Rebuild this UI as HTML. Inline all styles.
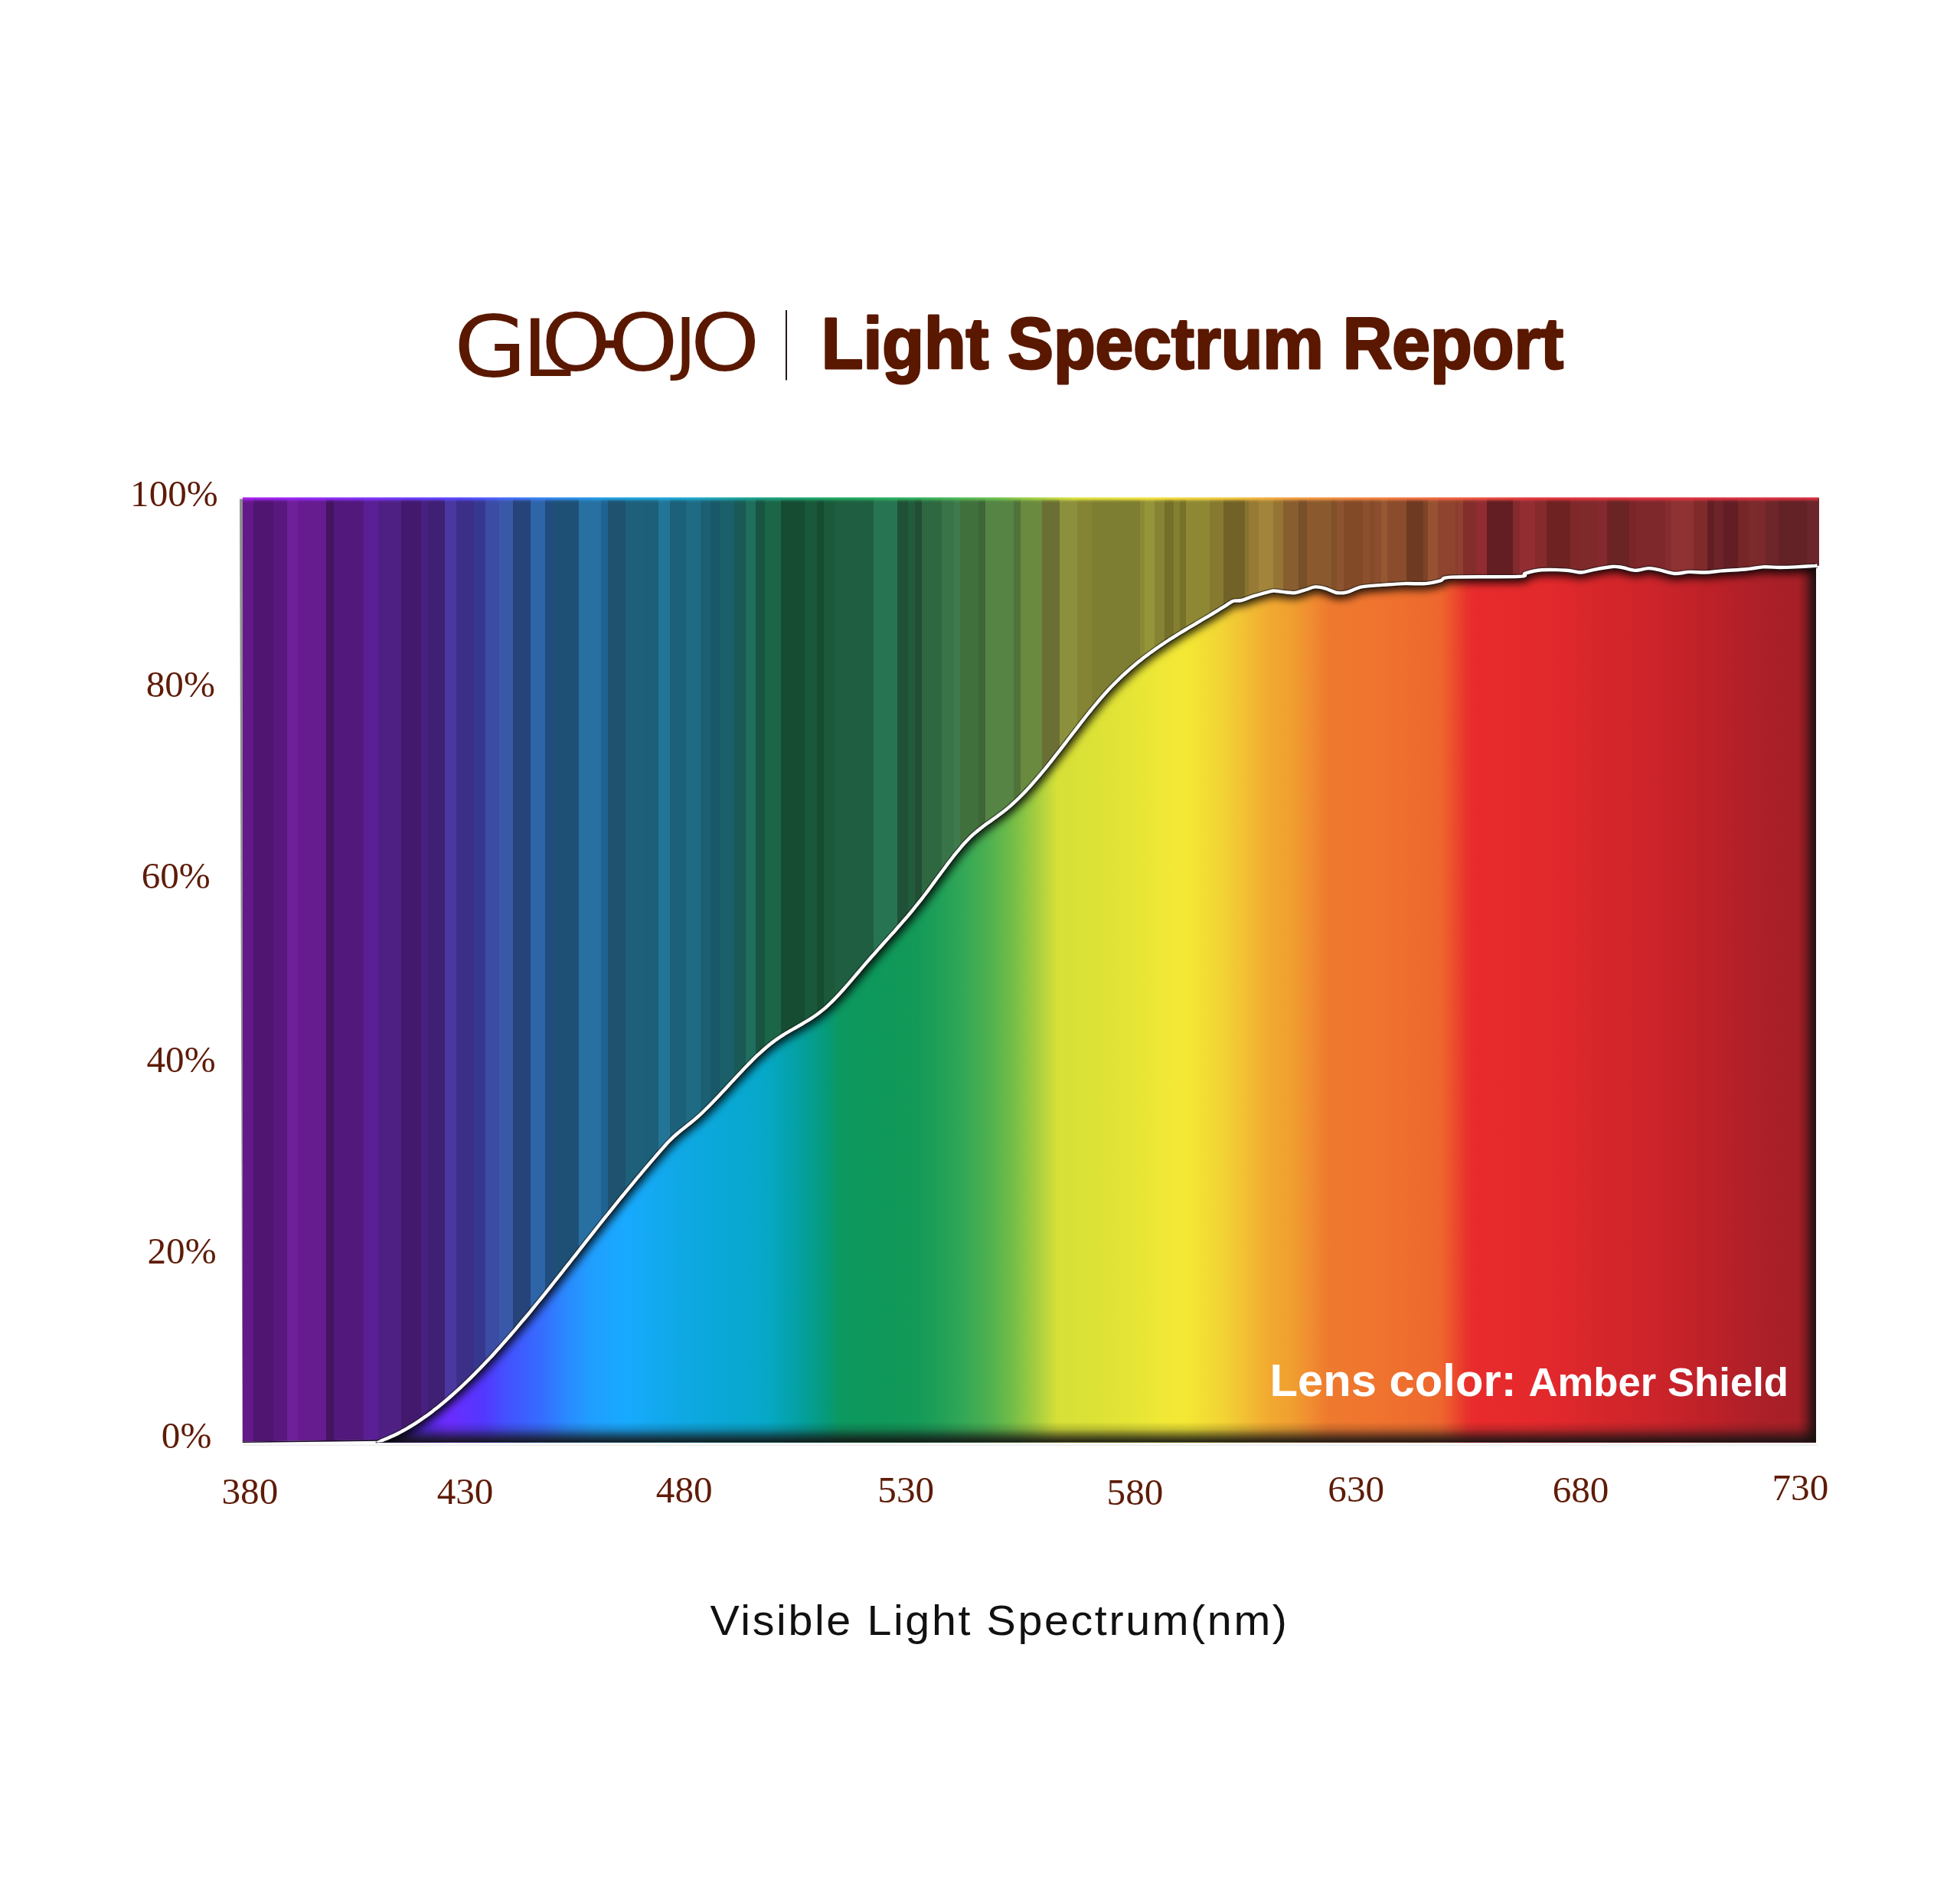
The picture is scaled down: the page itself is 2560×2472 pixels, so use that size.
<!DOCTYPE html>
<html><head><meta charset="utf-8"><title>GLOOJO Light Spectrum Report</title>
<style>
html,body{margin:0;padding:0;background:#fff;}
body{width:2560px;height:2472px;position:relative;overflow:hidden;}
.chart{position:absolute;left:0;top:0;}
.ax{font-family:"Liberation Serif",serif;font-size:49.2px;fill:#5e1c08;}
.title{font-family:"Liberation Sans",sans-serif;font-weight:bold;font-size:95px;fill:#5a1800;stroke:#5a1800;stroke-width:3px;stroke-linejoin:round;}
.lens{font-family:"Liberation Sans",sans-serif;font-weight:bold;fill:#fff;}
.xt{font-family:"Liberation Sans",sans-serif;fill:#111;}
.logo{font-family:"DejaVu Sans",sans-serif;fill:#5a1800;}
</style></head>
<body>
<svg class="chart" width="2560" height="2472" viewBox="0 0 2560 2472">
<defs>
<linearGradient id="fgg" gradientUnits="userSpaceOnUse" x1="496.0" y1="0" x2="2372.0" y2="0"><stop offset="0.0000" stop-color="#3a1c90"/><stop offset="0.0341" stop-color="#5a28e8"/><stop offset="0.0485" stop-color="#6a2cff"/><stop offset="0.0730" stop-color="#5238ff"/><stop offset="0.0874" stop-color="#4450ff"/><stop offset="0.1034" stop-color="#3a62ff"/><stop offset="0.1151" stop-color="#3470ff"/><stop offset="0.1301" stop-color="#2a8aff"/><stop offset="0.1466" stop-color="#209eff"/><stop offset="0.1711" stop-color="#18aaff"/><stop offset="0.2036" stop-color="#10a8e8"/><stop offset="0.2361" stop-color="#0aa8d8"/><stop offset="0.2687" stop-color="#06a8c8"/><stop offset="0.2932" stop-color="#04a0a0"/><stop offset="0.3113" stop-color="#069a78"/><stop offset="0.3204" stop-color="#0c9860"/><stop offset="0.3497" stop-color="#0e985a"/><stop offset="0.3742" stop-color="#149a58"/><stop offset="0.3902" stop-color="#20a058"/><stop offset="0.4067" stop-color="#34a856"/><stop offset="0.4232" stop-color="#4cb050"/><stop offset="0.4392" stop-color="#70bc48"/><stop offset="0.4558" stop-color="#a0cc40"/><stop offset="0.4717" stop-color="#d6e038"/><stop offset="0.4963" stop-color="#dce236"/><stop offset="0.5208" stop-color="#e4e436"/><stop offset="0.5453" stop-color="#f0e836"/><stop offset="0.5618" stop-color="#f4e834"/><stop offset="0.5864" stop-color="#f2d434"/><stop offset="0.6023" stop-color="#f2c034"/><stop offset="0.6205" stop-color="#f2a830"/><stop offset="0.6343" stop-color="#f0a030"/><stop offset="0.6471" stop-color="#f08e30"/><stop offset="0.6604" stop-color="#ee7a2e"/><stop offset="0.6914" stop-color="#f0742e"/><stop offset="0.7239" stop-color="#ee6c2e"/><stop offset="0.7388" stop-color="#ee662e"/><stop offset="0.7484" stop-color="#ec4c2c"/><stop offset="0.7569" stop-color="#e8322c"/><stop offset="0.7633" stop-color="#e82a2c"/><stop offset="0.7894" stop-color="#e62a2c"/><stop offset="0.8220" stop-color="#e0282c"/><stop offset="0.8545" stop-color="#d4262a"/><stop offset="0.8870" stop-color="#cc242a"/><stop offset="0.9296" stop-color="#bc2028"/><stop offset="0.9616" stop-color="#ac2028"/><stop offset="1.0000" stop-color="#a41e26"/></linearGradient>
<linearGradient id="topg" gradientUnits="userSpaceOnUse" x1="317.0" y1="0" x2="2375.0" y2="0"><stop offset="0.0000" stop-color="#a820f0"/><stop offset="0.0646" stop-color="#8a30f8"/><stop offset="0.1375" stop-color="#5a48ff"/><stop offset="0.1861" stop-color="#3a80f0"/><stop offset="0.2347" stop-color="#20a0e0"/><stop offset="0.2833" stop-color="#20a8d0"/><stop offset="0.3319" stop-color="#1ea080"/><stop offset="0.3805" stop-color="#20a860"/><stop offset="0.4291" stop-color="#34b060"/><stop offset="0.4776" stop-color="#6cc050"/><stop offset="0.5262" stop-color="#d8e040"/><stop offset="0.5748" stop-color="#f0e040"/><stop offset="0.6234" stop-color="#f0c840"/><stop offset="0.6720" stop-color="#f09840"/><stop offset="0.7206" stop-color="#f08040"/><stop offset="0.7692" stop-color="#f06040"/><stop offset="0.8178" stop-color="#e43840"/><stop offset="1.0000" stop-color="#d83040"/></linearGradient>
<linearGradient id="botsh" x1="0" y1="0" x2="0" y2="1">
<stop offset="0" stop-color="#141414" stop-opacity="0"/>
<stop offset="0.35" stop-color="#141414" stop-opacity="0.2"/>
<stop offset="0.7" stop-color="#141414" stop-opacity="0.65"/>
<stop offset="1" stop-color="#141414" stop-opacity="0.97"/>
</linearGradient>
<linearGradient id="rsh" x1="0" y1="0" x2="1" y2="0">
<stop offset="0" stop-color="#1a1010" stop-opacity="0"/>
<stop offset="0.4" stop-color="#1a1010" stop-opacity="0.3"/>
<stop offset="0.75" stop-color="#1a1010" stop-opacity="0.75"/>
<stop offset="1" stop-color="#1a1010" stop-opacity="0.97"/>
</linearGradient>
<clipPath id="fgclip"><path d="M492.0 1884.5 C493.2 1883.9 497.2 1881.9 499.4 1880.9 C501.6 1879.9 503.4 1879.3 505.4 1878.5 C507.4 1877.6 509.4 1876.8 511.5 1875.8 C513.5 1874.9 515.5 1874.0 517.5 1873.0 C519.5 1872.0 521.5 1870.9 523.5 1869.9 C525.5 1868.8 527.5 1867.7 529.5 1866.6 C531.5 1865.4 533.6 1864.2 535.6 1863.0 C537.6 1861.8 539.6 1860.6 541.6 1859.3 C543.6 1858.0 545.6 1856.7 547.6 1855.4 C549.6 1854.0 551.6 1852.6 553.6 1851.2 C555.7 1849.8 557.7 1848.4 559.7 1846.9 C561.7 1845.4 563.7 1843.9 565.7 1842.4 C567.7 1840.8 569.7 1839.3 571.7 1837.7 C573.7 1836.1 575.8 1834.4 577.8 1832.8 C579.8 1831.1 581.8 1829.4 583.8 1827.7 C585.8 1826.0 587.8 1824.3 589.8 1822.5 C591.8 1820.7 593.8 1818.9 595.8 1817.1 C597.9 1815.3 599.9 1813.5 601.9 1811.6 C603.9 1809.7 605.9 1807.8 607.9 1805.9 C609.9 1804.0 611.9 1802.0 613.9 1800.1 C615.9 1798.1 617.9 1796.1 620.0 1794.1 C622.0 1792.1 624.0 1790.0 626.0 1788.0 C628.0 1785.9 630.0 1783.8 632.0 1781.7 C634.0 1779.6 636.0 1777.5 638.0 1775.4 C640.0 1773.2 642.1 1771.1 644.1 1768.9 C646.1 1766.7 648.1 1764.5 650.1 1762.3 C652.1 1760.1 654.1 1757.8 656.1 1755.6 C658.1 1753.3 660.1 1751.0 662.1 1748.7 C664.2 1746.5 666.2 1744.1 668.2 1741.8 C670.2 1739.5 672.2 1737.2 674.2 1734.8 C676.2 1732.5 678.2 1730.1 680.2 1727.7 C682.2 1725.3 684.2 1722.9 686.3 1720.5 C688.3 1718.1 690.3 1715.7 692.3 1713.3 C694.3 1710.8 696.3 1708.4 698.3 1705.9 C700.3 1703.5 702.3 1701.0 704.3 1698.5 C706.4 1696.1 708.4 1693.6 710.4 1691.1 C712.4 1688.6 714.4 1686.1 716.4 1683.6 C718.4 1681.1 720.4 1678.5 722.4 1676.0 C724.4 1673.5 726.4 1671.0 728.5 1668.4 C730.5 1665.9 732.5 1663.3 734.5 1660.8 C736.5 1658.2 738.5 1655.7 740.5 1653.1 C742.5 1650.6 744.5 1648.0 746.5 1645.5 C748.5 1642.9 750.6 1640.4 752.6 1637.8 C754.6 1635.2 756.6 1632.7 758.6 1630.1 C760.6 1627.6 762.6 1625.0 764.6 1622.4 C766.6 1619.9 768.6 1617.3 770.6 1614.8 C772.7 1612.2 774.7 1609.7 776.7 1607.1 C778.7 1604.6 780.7 1602.1 782.7 1599.5 C784.7 1597.0 786.7 1594.5 788.7 1591.9 C790.7 1589.4 792.7 1586.9 794.8 1584.4 C796.8 1581.9 798.8 1579.4 800.8 1576.9 C802.8 1574.4 804.8 1571.9 806.8 1569.4 C808.8 1566.9 810.8 1564.5 812.8 1562.0 C814.9 1559.5 816.9 1557.1 818.9 1554.6 C820.9 1552.2 822.9 1549.8 824.9 1547.3 C826.9 1544.9 828.9 1542.5 830.9 1540.1 C832.9 1537.7 834.9 1535.3 837.0 1532.9 C839.0 1530.5 841.0 1528.1 843.0 1525.7 C845.0 1523.3 847.0 1521.0 849.0 1518.6 C851.0 1516.3 853.0 1513.9 855.0 1511.6 C857.0 1509.2 859.1 1506.9 861.1 1504.6 C863.1 1502.3 865.1 1499.9 867.1 1497.7 C869.1 1495.5 871.1 1493.2 873.1 1491.1 C875.1 1489.0 877.1 1487.0 879.1 1485.1 C881.2 1483.2 883.2 1481.5 885.2 1479.8 C887.2 1478.0 889.2 1476.5 891.2 1474.9 C893.2 1473.3 895.2 1471.7 897.2 1470.1 C899.2 1468.6 901.2 1467.0 903.3 1465.3 C905.3 1463.7 907.3 1462.0 909.3 1460.2 C911.3 1458.5 913.3 1456.6 915.3 1454.8 C917.3 1452.9 919.3 1451.0 921.3 1449.0 C923.3 1447.1 925.4 1445.1 927.4 1443.0 C929.4 1441.0 931.4 1438.9 933.4 1436.8 C935.4 1434.7 937.4 1432.6 939.4 1430.5 C941.4 1428.3 943.4 1426.2 945.5 1424.0 C947.5 1421.9 949.5 1419.7 951.5 1417.5 C953.5 1415.3 955.5 1413.1 957.5 1411.0 C959.5 1408.8 961.5 1406.6 963.5 1404.5 C965.5 1402.3 967.6 1400.2 969.6 1398.1 C971.6 1395.9 973.6 1393.8 975.6 1391.8 C977.6 1389.7 979.6 1387.6 981.6 1385.6 C983.6 1383.6 985.6 1381.6 987.6 1379.7 C989.7 1377.8 991.7 1375.9 993.7 1374.1 C995.7 1372.2 997.7 1370.4 999.7 1368.7 C1001.7 1367.0 1003.7 1365.3 1005.7 1363.7 C1007.7 1362.1 1009.7 1360.6 1011.8 1359.1 C1013.8 1357.6 1015.8 1356.2 1017.8 1354.9 C1019.8 1353.5 1021.8 1352.2 1023.8 1351.0 C1025.8 1349.7 1027.8 1348.5 1029.8 1347.4 C1031.8 1346.2 1033.9 1345.0 1035.9 1343.9 C1037.9 1342.7 1039.9 1341.6 1041.9 1340.5 C1043.9 1339.3 1045.9 1338.2 1047.9 1337.0 C1049.9 1335.8 1051.9 1334.6 1053.9 1333.4 C1056.0 1332.2 1058.0 1330.9 1060.0 1329.6 C1062.0 1328.3 1064.0 1327.0 1066.0 1325.5 C1068.0 1324.1 1070.0 1322.6 1072.0 1321.0 C1074.0 1319.5 1076.1 1317.8 1078.1 1316.1 C1080.1 1314.3 1082.1 1312.5 1084.1 1310.5 C1086.1 1308.6 1088.1 1306.6 1090.1 1304.6 C1092.1 1302.5 1094.1 1300.4 1096.1 1298.2 C1098.2 1296.0 1100.2 1293.8 1102.2 1291.5 C1104.2 1289.3 1106.2 1286.9 1108.2 1284.6 C1110.2 1282.3 1112.2 1279.9 1114.2 1277.6 C1116.2 1275.2 1118.2 1272.8 1120.3 1270.5 C1122.3 1268.1 1124.3 1265.7 1126.3 1263.4 C1128.3 1261.0 1130.3 1258.7 1132.3 1256.4 C1134.3 1254.1 1136.3 1251.8 1138.3 1249.5 C1140.3 1247.3 1142.4 1245.0 1144.4 1242.8 C1146.4 1240.5 1148.4 1238.3 1150.4 1236.0 C1152.4 1233.8 1154.4 1231.6 1156.4 1229.3 C1158.4 1227.1 1160.4 1224.9 1162.4 1222.6 C1164.5 1220.4 1166.5 1218.1 1168.5 1215.9 C1170.5 1213.6 1172.5 1211.3 1174.5 1209.1 C1176.5 1206.8 1178.5 1204.5 1180.5 1202.1 C1182.5 1199.8 1184.6 1197.5 1186.6 1195.1 C1188.6 1192.7 1190.6 1190.3 1192.6 1187.8 C1194.6 1185.4 1196.6 1182.9 1198.6 1180.4 C1200.6 1177.9 1202.6 1175.4 1204.6 1172.8 C1206.7 1170.2 1208.7 1167.5 1210.7 1164.9 C1212.7 1162.2 1214.7 1159.5 1216.7 1156.8 C1218.7 1154.0 1220.7 1151.3 1222.7 1148.5 C1224.7 1145.8 1226.7 1143.0 1228.8 1140.3 C1230.8 1137.6 1232.8 1134.9 1234.8 1132.2 C1236.8 1129.5 1238.8 1126.8 1240.8 1124.2 C1242.8 1121.5 1244.8 1119.0 1246.8 1116.4 C1248.8 1113.9 1250.9 1111.4 1252.9 1109.1 C1254.9 1106.7 1256.9 1104.3 1258.9 1102.1 C1260.9 1099.9 1262.9 1097.7 1264.9 1095.7 C1266.9 1093.7 1268.9 1091.7 1270.9 1089.9 C1273.0 1088.1 1275.0 1086.4 1277.0 1084.7 C1279.0 1083.1 1281.0 1081.5 1283.0 1080.0 C1285.0 1078.4 1287.0 1077.0 1289.0 1075.5 C1291.0 1074.1 1293.0 1072.7 1295.1 1071.3 C1297.1 1069.8 1299.1 1068.4 1301.1 1067.0 C1303.1 1065.6 1305.1 1064.1 1307.1 1062.6 C1309.1 1061.1 1311.1 1059.6 1313.1 1057.9 C1315.2 1056.3 1317.2 1054.6 1319.2 1052.9 C1321.2 1051.1 1323.2 1049.3 1325.2 1047.4 C1327.2 1045.6 1329.2 1043.7 1331.2 1041.7 C1333.2 1039.7 1335.2 1037.7 1337.3 1035.6 C1339.3 1033.5 1341.3 1031.3 1343.3 1029.2 C1345.3 1027.0 1347.3 1024.8 1349.3 1022.5 C1351.3 1020.2 1353.3 1017.9 1355.3 1015.6 C1357.3 1013.2 1359.4 1010.8 1361.4 1008.4 C1363.4 1006.0 1365.4 1003.6 1367.4 1001.1 C1369.4 998.6 1371.4 996.1 1373.4 993.6 C1375.4 991.1 1377.4 988.5 1379.4 985.9 C1381.5 983.4 1383.5 980.8 1385.5 978.2 C1387.5 975.6 1389.5 973.0 1391.5 970.4 C1393.5 967.7 1395.5 965.1 1397.5 962.5 C1399.5 959.9 1401.5 957.2 1403.6 954.6 C1405.6 952.0 1407.6 949.4 1409.6 946.8 C1411.6 944.2 1413.6 941.6 1415.6 939.1 C1417.6 936.5 1419.6 934.0 1421.6 931.5 C1423.6 929.0 1425.7 926.5 1427.7 924.0 C1429.7 921.6 1431.7 919.2 1433.7 916.8 C1435.7 914.4 1437.7 912.1 1439.7 909.8 C1441.7 907.5 1443.7 905.2 1445.8 903.0 C1447.8 900.8 1449.8 898.7 1451.8 896.6 C1453.8 894.5 1455.8 892.5 1457.8 890.5 C1459.8 888.5 1461.8 886.5 1463.8 884.6 C1465.8 882.7 1467.9 880.8 1469.9 879.0 C1471.9 877.2 1473.9 875.4 1475.9 873.6 C1477.9 871.9 1479.9 870.2 1481.9 868.5 C1483.9 866.8 1485.9 865.1 1487.9 863.5 C1490.0 861.9 1492.0 860.3 1494.0 858.8 C1496.0 857.3 1498.0 855.7 1500.0 854.2 C1502.0 852.8 1504.0 851.3 1506.0 849.9 C1508.0 848.4 1510.0 847.0 1512.1 845.6 C1514.1 844.2 1516.1 842.9 1518.1 841.5 C1520.1 840.2 1522.1 838.8 1524.1 837.5 C1526.1 836.2 1528.1 834.9 1530.1 833.7 C1532.1 832.4 1534.2 831.1 1536.2 829.9 C1538.2 828.6 1540.2 827.4 1542.2 826.2 C1544.2 824.9 1546.2 823.7 1548.2 822.5 C1550.2 821.3 1552.2 820.1 1554.3 818.9 C1556.3 817.7 1558.3 816.5 1560.3 815.3 C1562.3 814.1 1564.3 812.9 1566.3 811.7 C1568.3 810.6 1570.3 809.4 1572.3 808.2 C1574.3 807.0 1576.4 805.8 1578.4 804.6 C1580.4 803.4 1582.4 802.2 1584.4 801.0 C1586.4 799.8 1588.4 798.6 1590.4 797.3 C1592.4 796.1 1594.4 794.9 1596.4 793.6 C1598.5 792.4 1600.5 791.1 1602.5 789.8 C1604.5 788.5 1606.9 786.8 1608.5 785.9 C1610.1 785.0 1609.9 784.9 1612.1 784.6 C1614.3 784.3 1617.4 785.0 1621.5 784.0 C1625.6 783.0 1630.5 780.7 1636.7 778.7 C1643.0 776.8 1654.1 773.5 1659.0 772.3 C1663.9 771.1 1662.5 771.5 1666.0 771.7 C1669.5 771.9 1675.8 773.1 1680.1 773.5 C1684.4 773.9 1687.6 774.6 1691.9 774.0 C1696.2 773.4 1701.7 771.3 1706.0 770.0 C1710.3 768.7 1713.5 766.6 1717.7 766.4 C1721.9 766.2 1726.8 767.3 1731.4 768.6 C1736.0 769.9 1740.8 773.2 1745.4 774.0 C1750.1 774.8 1753.8 774.6 1759.3 773.3 C1764.8 772.0 1770.8 768.0 1778.6 766.4 C1786.4 764.8 1797.1 764.6 1806.4 763.9 C1815.7 763.2 1825.0 762.4 1834.3 762.1 C1843.6 761.8 1854.2 762.7 1862.1 762.1 C1869.9 761.5 1875.7 759.7 1881.4 758.3 C1887.1 756.9 1879.4 754.5 1896.4 753.6 C1913.4 752.7 1967.6 753.7 1983.6 752.9 C1999.5 752.1 1987.1 750.0 1992.1 748.6 C1997.1 747.2 2004.7 744.9 2013.6 744.3 C2022.5 743.6 2037.1 744.2 2045.7 744.7 C2054.3 745.2 2059.3 747.6 2065.0 747.5 C2070.7 747.4 2073.2 745.5 2080.0 744.3 C2086.8 743.0 2099.3 740.5 2105.7 740.0 C2112.1 739.5 2113.6 740.2 2118.6 741.0 C2123.6 741.8 2130.0 744.7 2135.7 744.9 C2141.4 745.1 2147.8 742.3 2152.8 742.1 C2157.8 741.9 2160.0 742.8 2165.7 743.9 C2171.4 745.0 2180.3 748.5 2187.1 749.0 C2193.9 749.5 2199.6 747.1 2206.4 746.9 C2213.2 746.6 2220.7 747.8 2227.8 747.5 C2235.0 747.2 2240.4 746.1 2249.3 745.4 C2258.2 744.7 2272.5 744.0 2281.4 743.2 C2290.3 742.4 2295.7 740.8 2302.8 740.4 C2310.0 740.0 2317.2 741.0 2324.3 741.0 C2331.5 741.0 2337.8 740.8 2345.7 740.4 C2353.5 740.0 2367.1 739.1 2371.4 738.9 L2372.0 738.9 L2372.0 1883.5 L490.0 1883.5 Z"/></clipPath>
<clipPath id="lineclip"><rect x="300" y="600" width="2100" height="1283.3"/></clipPath>
<filter id="blur6" x="-5%" y="-5%" width="110%" height="110%"><feGaussianBlur stdDeviation="5.5"/></filter>
</defs>
<polygon points="313,651.5 318,651.5 318,1883.5 316.6,1883.5 316,1700" fill="#8e8e8e"/>
<g shape-rendering="crispEdges"><rect x="316.8" y="650.0" width="15.6" height="1233.5" fill="#63198a"/><rect x="331.4" y="650.0" width="26.2" height="1233.5" fill="#501570"/><rect x="356.6" y="650.0" width="19.4" height="1233.5" fill="#58187e"/><rect x="375.0" y="650.0" width="14.8" height="1233.5" fill="#6e1f9a"/><rect x="388.8" y="650.0" width="37.7" height="1233.5" fill="#661b8f"/><rect x="425.5" y="650.0" width="11.7" height="1233.5" fill="#45145e"/><rect x="436.2" y="650.0" width="40.1" height="1233.5" fill="#52187b"/><rect x="475.3" y="650.0" width="19.3" height="1233.5" fill="#5a1f94"/><rect x="493.6" y="650.0" width="31.6" height="1233.5" fill="#4f2084"/><rect x="524.2" y="650.0" width="27.1" height="1233.5" fill="#42196d"/><rect x="550.3" y="650.0" width="9.4" height="1233.5" fill="#482080"/><rect x="558.7" y="650.0" width="23.2" height="1233.5" fill="#3f2072"/><rect x="580.9" y="650.0" width="16.1" height="1233.5" fill="#4a38a0"/><rect x="596.0" y="650.0" width="24.0" height="1233.5" fill="#3b2f88"/><rect x="619.0" y="650.0" width="15.6" height="1233.5" fill="#363890"/><rect x="633.6" y="650.0" width="19.4" height="1233.5" fill="#3c4ca5"/><rect x="652.0" y="650.0" width="19.3" height="1233.5" fill="#3a58a8"/><rect x="670.3" y="650.0" width="24.0" height="1233.5" fill="#26447a"/><rect x="693.3" y="650.0" width="19.3" height="1233.5" fill="#2e64a8"/><rect x="711.6" y="650.0" width="13.3" height="1233.5" fill="#214d7e"/><rect x="723.9" y="650.0" width="33.1" height="1233.5" fill="#1e5076"/><rect x="756.0" y="650.0" width="30.0" height="1233.5" fill="#2870a2"/><rect x="785.0" y="650.0" width="10.3" height="1233.5" fill="#216390"/><rect x="794.3" y="650.0" width="23.2" height="1233.5" fill="#1e526e"/><rect x="816.5" y="650.0" width="24.7" height="1233.5" fill="#1e5f7a"/><rect x="840.2" y="650.0" width="20.8" height="1233.5" fill="#1d5f78"/><rect x="860.0" y="650.0" width="16.3" height="1233.5" fill="#237598"/><rect x="875.3" y="650.0" width="21.7" height="1233.5" fill="#1c6079"/><rect x="896.0" y="650.0" width="20.0" height="1233.5" fill="#1f6b84"/><rect x="915.0" y="650.0" width="14.0" height="1233.5" fill="#1b6072"/><rect x="928.0" y="650.0" width="12.6" height="1233.5" fill="#195868"/><rect x="939.6" y="650.0" width="20.1" height="1233.5" fill="#1a5f6a"/><rect x="958.7" y="650.0" width="16.3" height="1233.5" fill="#195a56"/><rect x="974.0" y="650.0" width="14.0" height="1233.5" fill="#1f6e5e"/><rect x="987.0" y="650.0" width="13.3" height="1233.5" fill="#185440"/><rect x="999.3" y="650.0" width="21.7" height="1233.5" fill="#1c6648"/><rect x="1020.0" y="650.0" width="31.6" height="1233.5" fill="#154c32"/><rect x="1050.6" y="650.0" width="17.0" height="1233.5" fill="#19583a"/><rect x="1066.6" y="650.0" width="10.2" height="1233.5" fill="#154c32"/><rect x="1075.8" y="650.0" width="16.2" height="1233.5" fill="#1a5a3a"/><rect x="1091.0" y="650.0" width="51.0" height="1233.5" fill="#1f5e40"/><rect x="1141.0" y="650.0" width="32.0" height="1233.5" fill="#277452"/><rect x="1172.0" y="650.0" width="15.0" height="1233.5" fill="#1f5038"/><rect x="1186.0" y="650.0" width="10.0" height="1233.5" fill="#235c3c"/><rect x="1195.0" y="650.0" width="10.3" height="1233.5" fill="#214e34"/><rect x="1204.3" y="650.0" width="27.0" height="1233.5" fill="#2e6840"/><rect x="1230.3" y="650.0" width="16.3" height="1233.5" fill="#397448"/><rect x="1245.6" y="650.0" width="9.4" height="1233.5" fill="#3d7b4c"/><rect x="1254.0" y="650.0" width="24.8" height="1233.5" fill="#40703c"/><rect x="1277.8" y="650.0" width="10.2" height="1233.5" fill="#3e6636"/><rect x="1287.0" y="650.0" width="37.7" height="1233.5" fill="#558444"/><rect x="1323.7" y="650.0" width="10.3" height="1233.5" fill="#50733a"/><rect x="1333.0" y="650.0" width="29.2" height="1233.5" fill="#6a8a40"/><rect x="1361.2" y="650.0" width="23.8" height="1233.5" fill="#6a7034"/><rect x="1384.0" y="650.0" width="24.0" height="1233.5" fill="#8c903c"/><rect x="1407.0" y="650.0" width="20.0" height="1233.5" fill="#848434"/><rect x="1426.0" y="650.0" width="64.0" height="1233.5" fill="#7e7e32"/><rect x="1489.0" y="650.0" width="7.0" height="1233.5" fill="#8a8a36"/><rect x="1495.0" y="650.0" width="14.0" height="1233.5" fill="#94943a"/><rect x="1508.0" y="650.0" width="14.0" height="1233.5" fill="#868434"/><rect x="1521.0" y="650.0" width="13.3" height="1233.5" fill="#74702a"/><rect x="1533.3" y="650.0" width="8.7" height="1233.5" fill="#848030"/><rect x="1541.0" y="650.0" width="8.6" height="1233.5" fill="#76722a"/><rect x="1548.6" y="650.0" width="32.4" height="1233.5" fill="#8e8834"/><rect x="1580.0" y="650.0" width="19.3" height="1233.5" fill="#867a30"/><rect x="1598.3" y="650.0" width="28.7" height="1233.5" fill="#726228"/><rect x="1626.0" y="650.0" width="6.0" height="1233.5" fill="#867430"/><rect x="1631.0" y="650.0" width="13.5" height="1233.5" fill="#967a36"/><rect x="1643.5" y="650.0" width="20.1" height="1233.5" fill="#a2843a"/><rect x="1662.6" y="650.0" width="14.0" height="1233.5" fill="#967434"/><rect x="1675.6" y="650.0" width="21.7" height="1233.5" fill="#885e30"/><rect x="1696.3" y="650.0" width="11.7" height="1233.5" fill="#76502a"/><rect x="1707.0" y="650.0" width="18.5" height="1233.5" fill="#8a5a2e"/><rect x="1724.5" y="650.0" width="15.5" height="1233.5" fill="#885a2e"/><rect x="1739.0" y="650.0" width="8.0" height="1233.5" fill="#80502a"/><rect x="1746.0" y="650.0" width="10.0" height="1233.5" fill="#8c5430"/><rect x="1755.0" y="650.0" width="25.6" height="1233.5" fill="#824a26"/><rect x="1779.6" y="650.0" width="10.2" height="1233.5" fill="#8c502e"/><rect x="1788.8" y="650.0" width="7.2" height="1233.5" fill="#844a2a"/><rect x="1795.0" y="650.0" width="10.0" height="1233.5" fill="#8a4e2e"/><rect x="1804.0" y="650.0" width="8.7" height="1233.5" fill="#965832"/><rect x="1811.7" y="650.0" width="26.3" height="1233.5" fill="#8a4c2c"/><rect x="1837.0" y="650.0" width="23.2" height="1233.5" fill="#6e3a22"/><rect x="1859.2" y="650.0" width="6.4" height="1233.5" fill="#7e4428"/><rect x="1864.6" y="650.0" width="14.0" height="1233.5" fill="#965232"/><rect x="1877.6" y="650.0" width="23.9" height="1233.5" fill="#8e442e"/><rect x="1900.5" y="650.0" width="4.1" height="1233.5" fill="#8a3e2c"/><rect x="1903.6" y="650.0" width="8.6" height="1233.5" fill="#904030"/><rect x="1911.2" y="650.0" width="18.6" height="1233.5" fill="#842e2c"/><rect x="1928.8" y="650.0" width="14.0" height="1233.5" fill="#902c32"/><rect x="1941.8" y="650.0" width="34.7" height="1233.5" fill="#621e22"/><rect x="1975.5" y="650.0" width="10.0" height="1233.5" fill="#822a2e"/><rect x="1984.5" y="650.0" width="21.0" height="1233.5" fill="#922e32"/><rect x="2004.5" y="650.0" width="16.3" height="1233.5" fill="#862a2c"/><rect x="2019.8" y="650.0" width="32.6" height="1233.5" fill="#6e2222"/><rect x="2051.4" y="650.0" width="13.3" height="1233.5" fill="#7e2828"/><rect x="2063.7" y="650.0" width="23.3" height="1233.5" fill="#7e2a2a"/><rect x="2086.0" y="650.0" width="14.4" height="1233.5" fill="#842a2e"/><rect x="2099.4" y="650.0" width="29.6" height="1233.5" fill="#6a2424"/><rect x="2128.0" y="650.0" width="10.0" height="1233.5" fill="#7a2629"/><rect x="2137.0" y="650.0" width="39.0" height="1233.5" fill="#7e282c"/><rect x="2175.0" y="650.0" width="9.0" height="1233.5" fill="#862c30"/><rect x="2183.0" y="650.0" width="29.6" height="1233.5" fill="#8e3234"/><rect x="2211.6" y="650.0" width="19.4" height="1233.5" fill="#802a2c"/><rect x="2230.0" y="650.0" width="10.0" height="1233.5" fill="#621e22"/><rect x="2239.0" y="650.0" width="13.4" height="1233.5" fill="#6c2428"/><rect x="2251.4" y="650.0" width="19.4" height="1233.5" fill="#621e24"/><rect x="2269.8" y="650.0" width="15.2" height="1233.5" fill="#742628"/><rect x="2284.0" y="650.0" width="12.3" height="1233.5" fill="#7c2a2c"/><rect x="2295.3" y="650.0" width="11.2" height="1233.5" fill="#7a2a2c"/><rect x="2305.5" y="650.0" width="18.4" height="1233.5" fill="#6e262a"/><rect x="2322.9" y="650.0" width="37.7" height="1233.5" fill="#622226"/><rect x="2359.6" y="650.0" width="16.4" height="1233.5" fill="#6a262a"/></g>
<rect x="316.8" y="652.5" width="2058.2" height="1.5" fill="url(#topg)" opacity="0.45"/>
<rect x="316.8" y="654" width="2058.2" height="1.5" fill="url(#topg)" opacity="0.18"/>
<rect x="316.8" y="649.5" width="2058.2" height="3" fill="url(#topg)"/>
<rect x="316.8" y="1886.5" width="2058.2" height="1.5" fill="#ececec"/>
<polygon points="316.6,1882.4 497,1880.2 497,1885 316.6,1885" fill="#fff"/>
<path d="M316.8 1883.2 L497 1880.9" stroke="#1c0c28" stroke-width="1.6" fill="none"/>
<g clip-path="url(#fgclip)">
<rect x="480" y="700" width="1900" height="1200" fill="url(#fgg)"/>
<rect x="300" y="1857" width="2100" height="27" fill="url(#botsh)"/>
<rect x="2349" y="700" width="23.5" height="1200" fill="url(#rsh)"/>
<path d="M492.0 1884.5 C493.2 1883.9 497.2 1881.9 499.4 1880.9 C501.6 1879.9 503.4 1879.3 505.4 1878.5 C507.4 1877.6 509.4 1876.8 511.5 1875.8 C513.5 1874.9 515.5 1874.0 517.5 1873.0 C519.5 1872.0 521.5 1870.9 523.5 1869.9 C525.5 1868.8 527.5 1867.7 529.5 1866.6 C531.5 1865.4 533.6 1864.2 535.6 1863.0 C537.6 1861.8 539.6 1860.6 541.6 1859.3 C543.6 1858.0 545.6 1856.7 547.6 1855.4 C549.6 1854.0 551.6 1852.6 553.6 1851.2 C555.7 1849.8 557.7 1848.4 559.7 1846.9 C561.7 1845.4 563.7 1843.9 565.7 1842.4 C567.7 1840.8 569.7 1839.3 571.7 1837.7 C573.7 1836.1 575.8 1834.4 577.8 1832.8 C579.8 1831.1 581.8 1829.4 583.8 1827.7 C585.8 1826.0 587.8 1824.3 589.8 1822.5 C591.8 1820.7 593.8 1818.9 595.8 1817.1 C597.9 1815.3 599.9 1813.5 601.9 1811.6 C603.9 1809.7 605.9 1807.8 607.9 1805.9 C609.9 1804.0 611.9 1802.0 613.9 1800.1 C615.9 1798.1 617.9 1796.1 620.0 1794.1 C622.0 1792.1 624.0 1790.0 626.0 1788.0 C628.0 1785.9 630.0 1783.8 632.0 1781.7 C634.0 1779.6 636.0 1777.5 638.0 1775.4 C640.0 1773.2 642.1 1771.1 644.1 1768.9 C646.1 1766.7 648.1 1764.5 650.1 1762.3 C652.1 1760.1 654.1 1757.8 656.1 1755.6 C658.1 1753.3 660.1 1751.0 662.1 1748.7 C664.2 1746.5 666.2 1744.1 668.2 1741.8 C670.2 1739.5 672.2 1737.2 674.2 1734.8 C676.2 1732.5 678.2 1730.1 680.2 1727.7 C682.2 1725.3 684.2 1722.9 686.3 1720.5 C688.3 1718.1 690.3 1715.7 692.3 1713.3 C694.3 1710.8 696.3 1708.4 698.3 1705.9 C700.3 1703.5 702.3 1701.0 704.3 1698.5 C706.4 1696.1 708.4 1693.6 710.4 1691.1 C712.4 1688.6 714.4 1686.1 716.4 1683.6 C718.4 1681.1 720.4 1678.5 722.4 1676.0 C724.4 1673.5 726.4 1671.0 728.5 1668.4 C730.5 1665.9 732.5 1663.3 734.5 1660.8 C736.5 1658.2 738.5 1655.7 740.5 1653.1 C742.5 1650.6 744.5 1648.0 746.5 1645.5 C748.5 1642.9 750.6 1640.4 752.6 1637.8 C754.6 1635.2 756.6 1632.7 758.6 1630.1 C760.6 1627.6 762.6 1625.0 764.6 1622.4 C766.6 1619.9 768.6 1617.3 770.6 1614.8 C772.7 1612.2 774.7 1609.7 776.7 1607.1 C778.7 1604.6 780.7 1602.1 782.7 1599.5 C784.7 1597.0 786.7 1594.5 788.7 1591.9 C790.7 1589.4 792.7 1586.9 794.8 1584.4 C796.8 1581.9 798.8 1579.4 800.8 1576.9 C802.8 1574.4 804.8 1571.9 806.8 1569.4 C808.8 1566.9 810.8 1564.5 812.8 1562.0 C814.9 1559.5 816.9 1557.1 818.9 1554.6 C820.9 1552.2 822.9 1549.8 824.9 1547.3 C826.9 1544.9 828.9 1542.5 830.9 1540.1 C832.9 1537.7 834.9 1535.3 837.0 1532.9 C839.0 1530.5 841.0 1528.1 843.0 1525.7 C845.0 1523.3 847.0 1521.0 849.0 1518.6 C851.0 1516.3 853.0 1513.9 855.0 1511.6 C857.0 1509.2 859.1 1506.9 861.1 1504.6 C863.1 1502.3 865.1 1499.9 867.1 1497.7 C869.1 1495.5 871.1 1493.2 873.1 1491.1 C875.1 1489.0 877.1 1487.0 879.1 1485.1 C881.2 1483.2 883.2 1481.5 885.2 1479.8 C887.2 1478.0 889.2 1476.5 891.2 1474.9 C893.2 1473.3 895.2 1471.7 897.2 1470.1 C899.2 1468.6 901.2 1467.0 903.3 1465.3 C905.3 1463.7 907.3 1462.0 909.3 1460.2 C911.3 1458.5 913.3 1456.6 915.3 1454.8 C917.3 1452.9 919.3 1451.0 921.3 1449.0 C923.3 1447.1 925.4 1445.1 927.4 1443.0 C929.4 1441.0 931.4 1438.9 933.4 1436.8 C935.4 1434.7 937.4 1432.6 939.4 1430.5 C941.4 1428.3 943.4 1426.2 945.5 1424.0 C947.5 1421.9 949.5 1419.7 951.5 1417.5 C953.5 1415.3 955.5 1413.1 957.5 1411.0 C959.5 1408.8 961.5 1406.6 963.5 1404.5 C965.5 1402.3 967.6 1400.2 969.6 1398.1 C971.6 1395.9 973.6 1393.8 975.6 1391.8 C977.6 1389.7 979.6 1387.6 981.6 1385.6 C983.6 1383.6 985.6 1381.6 987.6 1379.7 C989.7 1377.8 991.7 1375.9 993.7 1374.1 C995.7 1372.2 997.7 1370.4 999.7 1368.7 C1001.7 1367.0 1003.7 1365.3 1005.7 1363.7 C1007.7 1362.1 1009.7 1360.6 1011.8 1359.1 C1013.8 1357.6 1015.8 1356.2 1017.8 1354.9 C1019.8 1353.5 1021.8 1352.2 1023.8 1351.0 C1025.8 1349.7 1027.8 1348.5 1029.8 1347.4 C1031.8 1346.2 1033.9 1345.0 1035.9 1343.9 C1037.9 1342.7 1039.9 1341.6 1041.9 1340.5 C1043.9 1339.3 1045.9 1338.2 1047.9 1337.0 C1049.9 1335.8 1051.9 1334.6 1053.9 1333.4 C1056.0 1332.2 1058.0 1330.9 1060.0 1329.6 C1062.0 1328.3 1064.0 1327.0 1066.0 1325.5 C1068.0 1324.1 1070.0 1322.6 1072.0 1321.0 C1074.0 1319.5 1076.1 1317.8 1078.1 1316.1 C1080.1 1314.3 1082.1 1312.5 1084.1 1310.5 C1086.1 1308.6 1088.1 1306.6 1090.1 1304.6 C1092.1 1302.5 1094.1 1300.4 1096.1 1298.2 C1098.2 1296.0 1100.2 1293.8 1102.2 1291.5 C1104.2 1289.3 1106.2 1286.9 1108.2 1284.6 C1110.2 1282.3 1112.2 1279.9 1114.2 1277.6 C1116.2 1275.2 1118.2 1272.8 1120.3 1270.5 C1122.3 1268.1 1124.3 1265.7 1126.3 1263.4 C1128.3 1261.0 1130.3 1258.7 1132.3 1256.4 C1134.3 1254.1 1136.3 1251.8 1138.3 1249.5 C1140.3 1247.3 1142.4 1245.0 1144.4 1242.8 C1146.4 1240.5 1148.4 1238.3 1150.4 1236.0 C1152.4 1233.8 1154.4 1231.6 1156.4 1229.3 C1158.4 1227.1 1160.4 1224.9 1162.4 1222.6 C1164.5 1220.4 1166.5 1218.1 1168.5 1215.9 C1170.5 1213.6 1172.5 1211.3 1174.5 1209.1 C1176.5 1206.8 1178.5 1204.5 1180.5 1202.1 C1182.5 1199.8 1184.6 1197.5 1186.6 1195.1 C1188.6 1192.7 1190.6 1190.3 1192.6 1187.8 C1194.6 1185.4 1196.6 1182.9 1198.6 1180.4 C1200.6 1177.9 1202.6 1175.4 1204.6 1172.8 C1206.7 1170.2 1208.7 1167.5 1210.7 1164.9 C1212.7 1162.2 1214.7 1159.5 1216.7 1156.8 C1218.7 1154.0 1220.7 1151.3 1222.7 1148.5 C1224.7 1145.8 1226.7 1143.0 1228.8 1140.3 C1230.8 1137.6 1232.8 1134.9 1234.8 1132.2 C1236.8 1129.5 1238.8 1126.8 1240.8 1124.2 C1242.8 1121.5 1244.8 1119.0 1246.8 1116.4 C1248.8 1113.9 1250.9 1111.4 1252.9 1109.1 C1254.9 1106.7 1256.9 1104.3 1258.9 1102.1 C1260.9 1099.9 1262.9 1097.7 1264.9 1095.7 C1266.9 1093.7 1268.9 1091.7 1270.9 1089.9 C1273.0 1088.1 1275.0 1086.4 1277.0 1084.7 C1279.0 1083.1 1281.0 1081.5 1283.0 1080.0 C1285.0 1078.4 1287.0 1077.0 1289.0 1075.5 C1291.0 1074.1 1293.0 1072.7 1295.1 1071.3 C1297.1 1069.8 1299.1 1068.4 1301.1 1067.0 C1303.1 1065.6 1305.1 1064.1 1307.1 1062.6 C1309.1 1061.1 1311.1 1059.6 1313.1 1057.9 C1315.2 1056.3 1317.2 1054.6 1319.2 1052.9 C1321.2 1051.1 1323.2 1049.3 1325.2 1047.4 C1327.2 1045.6 1329.2 1043.7 1331.2 1041.7 C1333.2 1039.7 1335.2 1037.7 1337.3 1035.6 C1339.3 1033.5 1341.3 1031.3 1343.3 1029.2 C1345.3 1027.0 1347.3 1024.8 1349.3 1022.5 C1351.3 1020.2 1353.3 1017.9 1355.3 1015.6 C1357.3 1013.2 1359.4 1010.8 1361.4 1008.4 C1363.4 1006.0 1365.4 1003.6 1367.4 1001.1 C1369.4 998.6 1371.4 996.1 1373.4 993.6 C1375.4 991.1 1377.4 988.5 1379.4 985.9 C1381.5 983.4 1383.5 980.8 1385.5 978.2 C1387.5 975.6 1389.5 973.0 1391.5 970.4 C1393.5 967.7 1395.5 965.1 1397.5 962.5 C1399.5 959.9 1401.5 957.2 1403.6 954.6 C1405.6 952.0 1407.6 949.4 1409.6 946.8 C1411.6 944.2 1413.6 941.6 1415.6 939.1 C1417.6 936.5 1419.6 934.0 1421.6 931.5 C1423.6 929.0 1425.7 926.5 1427.7 924.0 C1429.7 921.6 1431.7 919.2 1433.7 916.8 C1435.7 914.4 1437.7 912.1 1439.7 909.8 C1441.7 907.5 1443.7 905.2 1445.8 903.0 C1447.8 900.8 1449.8 898.7 1451.8 896.6 C1453.8 894.5 1455.8 892.5 1457.8 890.5 C1459.8 888.5 1461.8 886.5 1463.8 884.6 C1465.8 882.7 1467.9 880.8 1469.9 879.0 C1471.9 877.2 1473.9 875.4 1475.9 873.6 C1477.9 871.9 1479.9 870.2 1481.9 868.5 C1483.9 866.8 1485.9 865.1 1487.9 863.5 C1490.0 861.9 1492.0 860.3 1494.0 858.8 C1496.0 857.3 1498.0 855.7 1500.0 854.2 C1502.0 852.8 1504.0 851.3 1506.0 849.9 C1508.0 848.4 1510.0 847.0 1512.1 845.6 C1514.1 844.2 1516.1 842.9 1518.1 841.5 C1520.1 840.2 1522.1 838.8 1524.1 837.5 C1526.1 836.2 1528.1 834.9 1530.1 833.7 C1532.1 832.4 1534.2 831.1 1536.2 829.9 C1538.2 828.6 1540.2 827.4 1542.2 826.2 C1544.2 824.9 1546.2 823.7 1548.2 822.5 C1550.2 821.3 1552.2 820.1 1554.3 818.9 C1556.3 817.7 1558.3 816.5 1560.3 815.3 C1562.3 814.1 1564.3 812.9 1566.3 811.7 C1568.3 810.6 1570.3 809.4 1572.3 808.2 C1574.3 807.0 1576.4 805.8 1578.4 804.6 C1580.4 803.4 1582.4 802.2 1584.4 801.0 C1586.4 799.8 1588.4 798.6 1590.4 797.3 C1592.4 796.1 1594.4 794.9 1596.4 793.6 C1598.5 792.4 1600.5 791.1 1602.5 789.8 C1604.5 788.5 1606.9 786.8 1608.5 785.9 C1610.1 785.0 1609.9 784.9 1612.1 784.6 C1614.3 784.3 1617.4 785.0 1621.5 784.0 C1625.6 783.0 1630.5 780.7 1636.7 778.7 C1643.0 776.8 1654.1 773.5 1659.0 772.3 C1663.9 771.1 1662.5 771.5 1666.0 771.7 C1669.5 771.9 1675.8 773.1 1680.1 773.5 C1684.4 773.9 1687.6 774.6 1691.9 774.0 C1696.2 773.4 1701.7 771.3 1706.0 770.0 C1710.3 768.7 1713.5 766.6 1717.7 766.4 C1721.9 766.2 1726.8 767.3 1731.4 768.6 C1736.0 769.9 1740.8 773.2 1745.4 774.0 C1750.1 774.8 1753.8 774.6 1759.3 773.3 C1764.8 772.0 1770.8 768.0 1778.6 766.4 C1786.4 764.8 1797.1 764.6 1806.4 763.9 C1815.7 763.2 1825.0 762.4 1834.3 762.1 C1843.6 761.8 1854.2 762.7 1862.1 762.1 C1869.9 761.5 1875.7 759.7 1881.4 758.3 C1887.1 756.9 1879.4 754.5 1896.4 753.6 C1913.4 752.7 1967.6 753.7 1983.6 752.9 C1999.5 752.1 1987.1 750.0 1992.1 748.6 C1997.1 747.2 2004.7 744.9 2013.6 744.3 C2022.5 743.6 2037.1 744.2 2045.7 744.7 C2054.3 745.2 2059.3 747.6 2065.0 747.5 C2070.7 747.4 2073.2 745.5 2080.0 744.3 C2086.8 743.0 2099.3 740.5 2105.7 740.0 C2112.1 739.5 2113.6 740.2 2118.6 741.0 C2123.6 741.8 2130.0 744.7 2135.7 744.9 C2141.4 745.1 2147.8 742.3 2152.8 742.1 C2157.8 741.9 2160.0 742.8 2165.7 743.9 C2171.4 745.0 2180.3 748.5 2187.1 749.0 C2193.9 749.5 2199.6 747.1 2206.4 746.9 C2213.2 746.6 2220.7 747.8 2227.8 747.5 C2235.0 747.2 2240.4 746.1 2249.3 745.4 C2258.2 744.7 2272.5 744.0 2281.4 743.2 C2290.3 742.4 2295.7 740.8 2302.8 740.4 C2310.0 740.0 2317.2 741.0 2324.3 741.0 C2331.5 741.0 2337.8 740.8 2345.7 740.4 C2353.5 740.0 2367.1 739.1 2371.4 738.9" fill="none" stroke="#000" stroke-opacity="0.85" stroke-width="16" filter="url(#blur6)"/>
</g>
<rect x="2372" y="738.9" width="5" height="1145.6" fill="#fff"/>
<g clip-path="url(#lineclip)">
<path d="M492.0 1884.5 C493.2 1883.9 497.2 1881.9 499.4 1880.9 C501.6 1879.9 503.4 1879.3 505.4 1878.5 C507.4 1877.6 509.4 1876.8 511.5 1875.8 C513.5 1874.9 515.5 1874.0 517.5 1873.0 C519.5 1872.0 521.5 1870.9 523.5 1869.9 C525.5 1868.8 527.5 1867.7 529.5 1866.6 C531.5 1865.4 533.6 1864.2 535.6 1863.0 C537.6 1861.8 539.6 1860.6 541.6 1859.3 C543.6 1858.0 545.6 1856.7 547.6 1855.4 C549.6 1854.0 551.6 1852.6 553.6 1851.2 C555.7 1849.8 557.7 1848.4 559.7 1846.9 C561.7 1845.4 563.7 1843.9 565.7 1842.4 C567.7 1840.8 569.7 1839.3 571.7 1837.7 C573.7 1836.1 575.8 1834.4 577.8 1832.8 C579.8 1831.1 581.8 1829.4 583.8 1827.7 C585.8 1826.0 587.8 1824.3 589.8 1822.5 C591.8 1820.7 593.8 1818.9 595.8 1817.1 C597.9 1815.3 599.9 1813.5 601.9 1811.6 C603.9 1809.7 605.9 1807.8 607.9 1805.9 C609.9 1804.0 611.9 1802.0 613.9 1800.1 C615.9 1798.1 617.9 1796.1 620.0 1794.1 C622.0 1792.1 624.0 1790.0 626.0 1788.0 C628.0 1785.9 630.0 1783.8 632.0 1781.7 C634.0 1779.6 636.0 1777.5 638.0 1775.4 C640.0 1773.2 642.1 1771.1 644.1 1768.9 C646.1 1766.7 648.1 1764.5 650.1 1762.3 C652.1 1760.1 654.1 1757.8 656.1 1755.6 C658.1 1753.3 660.1 1751.0 662.1 1748.7 C664.2 1746.5 666.2 1744.1 668.2 1741.8 C670.2 1739.5 672.2 1737.2 674.2 1734.8 C676.2 1732.5 678.2 1730.1 680.2 1727.7 C682.2 1725.3 684.2 1722.9 686.3 1720.5 C688.3 1718.1 690.3 1715.7 692.3 1713.3 C694.3 1710.8 696.3 1708.4 698.3 1705.9 C700.3 1703.5 702.3 1701.0 704.3 1698.5 C706.4 1696.1 708.4 1693.6 710.4 1691.1 C712.4 1688.6 714.4 1686.1 716.4 1683.6 C718.4 1681.1 720.4 1678.5 722.4 1676.0 C724.4 1673.5 726.4 1671.0 728.5 1668.4 C730.5 1665.9 732.5 1663.3 734.5 1660.8 C736.5 1658.2 738.5 1655.7 740.5 1653.1 C742.5 1650.6 744.5 1648.0 746.5 1645.5 C748.5 1642.9 750.6 1640.4 752.6 1637.8 C754.6 1635.2 756.6 1632.7 758.6 1630.1 C760.6 1627.6 762.6 1625.0 764.6 1622.4 C766.6 1619.9 768.6 1617.3 770.6 1614.8 C772.7 1612.2 774.7 1609.7 776.7 1607.1 C778.7 1604.6 780.7 1602.1 782.7 1599.5 C784.7 1597.0 786.7 1594.5 788.7 1591.9 C790.7 1589.4 792.7 1586.9 794.8 1584.4 C796.8 1581.9 798.8 1579.4 800.8 1576.9 C802.8 1574.4 804.8 1571.9 806.8 1569.4 C808.8 1566.9 810.8 1564.5 812.8 1562.0 C814.9 1559.5 816.9 1557.1 818.9 1554.6 C820.9 1552.2 822.9 1549.8 824.9 1547.3 C826.9 1544.9 828.9 1542.5 830.9 1540.1 C832.9 1537.7 834.9 1535.3 837.0 1532.9 C839.0 1530.5 841.0 1528.1 843.0 1525.7 C845.0 1523.3 847.0 1521.0 849.0 1518.6 C851.0 1516.3 853.0 1513.9 855.0 1511.6 C857.0 1509.2 859.1 1506.9 861.1 1504.6 C863.1 1502.3 865.1 1499.9 867.1 1497.7 C869.1 1495.5 871.1 1493.2 873.1 1491.1 C875.1 1489.0 877.1 1487.0 879.1 1485.1 C881.2 1483.2 883.2 1481.5 885.2 1479.8 C887.2 1478.0 889.2 1476.5 891.2 1474.9 C893.2 1473.3 895.2 1471.7 897.2 1470.1 C899.2 1468.6 901.2 1467.0 903.3 1465.3 C905.3 1463.7 907.3 1462.0 909.3 1460.2 C911.3 1458.5 913.3 1456.6 915.3 1454.8 C917.3 1452.9 919.3 1451.0 921.3 1449.0 C923.3 1447.1 925.4 1445.1 927.4 1443.0 C929.4 1441.0 931.4 1438.9 933.4 1436.8 C935.4 1434.7 937.4 1432.6 939.4 1430.5 C941.4 1428.3 943.4 1426.2 945.5 1424.0 C947.5 1421.9 949.5 1419.7 951.5 1417.5 C953.5 1415.3 955.5 1413.1 957.5 1411.0 C959.5 1408.8 961.5 1406.6 963.5 1404.5 C965.5 1402.3 967.6 1400.2 969.6 1398.1 C971.6 1395.9 973.6 1393.8 975.6 1391.8 C977.6 1389.7 979.6 1387.6 981.6 1385.6 C983.6 1383.6 985.6 1381.6 987.6 1379.7 C989.7 1377.8 991.7 1375.9 993.7 1374.1 C995.7 1372.2 997.7 1370.4 999.7 1368.7 C1001.7 1367.0 1003.7 1365.3 1005.7 1363.7 C1007.7 1362.1 1009.7 1360.6 1011.8 1359.1 C1013.8 1357.6 1015.8 1356.2 1017.8 1354.9 C1019.8 1353.5 1021.8 1352.2 1023.8 1351.0 C1025.8 1349.7 1027.8 1348.5 1029.8 1347.4 C1031.8 1346.2 1033.9 1345.0 1035.9 1343.9 C1037.9 1342.7 1039.9 1341.6 1041.9 1340.5 C1043.9 1339.3 1045.9 1338.2 1047.9 1337.0 C1049.9 1335.8 1051.9 1334.6 1053.9 1333.4 C1056.0 1332.2 1058.0 1330.9 1060.0 1329.6 C1062.0 1328.3 1064.0 1327.0 1066.0 1325.5 C1068.0 1324.1 1070.0 1322.6 1072.0 1321.0 C1074.0 1319.5 1076.1 1317.8 1078.1 1316.1 C1080.1 1314.3 1082.1 1312.5 1084.1 1310.5 C1086.1 1308.6 1088.1 1306.6 1090.1 1304.6 C1092.1 1302.5 1094.1 1300.4 1096.1 1298.2 C1098.2 1296.0 1100.2 1293.8 1102.2 1291.5 C1104.2 1289.3 1106.2 1286.9 1108.2 1284.6 C1110.2 1282.3 1112.2 1279.9 1114.2 1277.6 C1116.2 1275.2 1118.2 1272.8 1120.3 1270.5 C1122.3 1268.1 1124.3 1265.7 1126.3 1263.4 C1128.3 1261.0 1130.3 1258.7 1132.3 1256.4 C1134.3 1254.1 1136.3 1251.8 1138.3 1249.5 C1140.3 1247.3 1142.4 1245.0 1144.4 1242.8 C1146.4 1240.5 1148.4 1238.3 1150.4 1236.0 C1152.4 1233.8 1154.4 1231.6 1156.4 1229.3 C1158.4 1227.1 1160.4 1224.9 1162.4 1222.6 C1164.5 1220.4 1166.5 1218.1 1168.5 1215.9 C1170.5 1213.6 1172.5 1211.3 1174.5 1209.1 C1176.5 1206.8 1178.5 1204.5 1180.5 1202.1 C1182.5 1199.8 1184.6 1197.5 1186.6 1195.1 C1188.6 1192.7 1190.6 1190.3 1192.6 1187.8 C1194.6 1185.4 1196.6 1182.9 1198.6 1180.4 C1200.6 1177.9 1202.6 1175.4 1204.6 1172.8 C1206.7 1170.2 1208.7 1167.5 1210.7 1164.9 C1212.7 1162.2 1214.7 1159.5 1216.7 1156.8 C1218.7 1154.0 1220.7 1151.3 1222.7 1148.5 C1224.7 1145.8 1226.7 1143.0 1228.8 1140.3 C1230.8 1137.6 1232.8 1134.9 1234.8 1132.2 C1236.8 1129.5 1238.8 1126.8 1240.8 1124.2 C1242.8 1121.5 1244.8 1119.0 1246.8 1116.4 C1248.8 1113.9 1250.9 1111.4 1252.9 1109.1 C1254.9 1106.7 1256.9 1104.3 1258.9 1102.1 C1260.9 1099.9 1262.9 1097.7 1264.9 1095.7 C1266.9 1093.7 1268.9 1091.7 1270.9 1089.9 C1273.0 1088.1 1275.0 1086.4 1277.0 1084.7 C1279.0 1083.1 1281.0 1081.5 1283.0 1080.0 C1285.0 1078.4 1287.0 1077.0 1289.0 1075.5 C1291.0 1074.1 1293.0 1072.7 1295.1 1071.3 C1297.1 1069.8 1299.1 1068.4 1301.1 1067.0 C1303.1 1065.6 1305.1 1064.1 1307.1 1062.6 C1309.1 1061.1 1311.1 1059.6 1313.1 1057.9 C1315.2 1056.3 1317.2 1054.6 1319.2 1052.9 C1321.2 1051.1 1323.2 1049.3 1325.2 1047.4 C1327.2 1045.6 1329.2 1043.7 1331.2 1041.7 C1333.2 1039.7 1335.2 1037.7 1337.3 1035.6 C1339.3 1033.5 1341.3 1031.3 1343.3 1029.2 C1345.3 1027.0 1347.3 1024.8 1349.3 1022.5 C1351.3 1020.2 1353.3 1017.9 1355.3 1015.6 C1357.3 1013.2 1359.4 1010.8 1361.4 1008.4 C1363.4 1006.0 1365.4 1003.6 1367.4 1001.1 C1369.4 998.6 1371.4 996.1 1373.4 993.6 C1375.4 991.1 1377.4 988.5 1379.4 985.9 C1381.5 983.4 1383.5 980.8 1385.5 978.2 C1387.5 975.6 1389.5 973.0 1391.5 970.4 C1393.5 967.7 1395.5 965.1 1397.5 962.5 C1399.5 959.9 1401.5 957.2 1403.6 954.6 C1405.6 952.0 1407.6 949.4 1409.6 946.8 C1411.6 944.2 1413.6 941.6 1415.6 939.1 C1417.6 936.5 1419.6 934.0 1421.6 931.5 C1423.6 929.0 1425.7 926.5 1427.7 924.0 C1429.7 921.6 1431.7 919.2 1433.7 916.8 C1435.7 914.4 1437.7 912.1 1439.7 909.8 C1441.7 907.5 1443.7 905.2 1445.8 903.0 C1447.8 900.8 1449.8 898.7 1451.8 896.6 C1453.8 894.5 1455.8 892.5 1457.8 890.5 C1459.8 888.5 1461.8 886.5 1463.8 884.6 C1465.8 882.7 1467.9 880.8 1469.9 879.0 C1471.9 877.2 1473.9 875.4 1475.9 873.6 C1477.9 871.9 1479.9 870.2 1481.9 868.5 C1483.9 866.8 1485.9 865.1 1487.9 863.5 C1490.0 861.9 1492.0 860.3 1494.0 858.8 C1496.0 857.3 1498.0 855.7 1500.0 854.2 C1502.0 852.8 1504.0 851.3 1506.0 849.9 C1508.0 848.4 1510.0 847.0 1512.1 845.6 C1514.1 844.2 1516.1 842.9 1518.1 841.5 C1520.1 840.2 1522.1 838.8 1524.1 837.5 C1526.1 836.2 1528.1 834.9 1530.1 833.7 C1532.1 832.4 1534.2 831.1 1536.2 829.9 C1538.2 828.6 1540.2 827.4 1542.2 826.2 C1544.2 824.9 1546.2 823.7 1548.2 822.5 C1550.2 821.3 1552.2 820.1 1554.3 818.9 C1556.3 817.7 1558.3 816.5 1560.3 815.3 C1562.3 814.1 1564.3 812.9 1566.3 811.7 C1568.3 810.6 1570.3 809.4 1572.3 808.2 C1574.3 807.0 1576.4 805.8 1578.4 804.6 C1580.4 803.4 1582.4 802.2 1584.4 801.0 C1586.4 799.8 1588.4 798.6 1590.4 797.3 C1592.4 796.1 1594.4 794.9 1596.4 793.6 C1598.5 792.4 1600.5 791.1 1602.5 789.8 C1604.5 788.5 1606.9 786.8 1608.5 785.9 C1610.1 785.0 1609.9 784.9 1612.1 784.6 C1614.3 784.3 1617.4 785.0 1621.5 784.0 C1625.6 783.0 1630.5 780.7 1636.7 778.7 C1643.0 776.8 1654.1 773.5 1659.0 772.3 C1663.9 771.1 1662.5 771.5 1666.0 771.7 C1669.5 771.9 1675.8 773.1 1680.1 773.5 C1684.4 773.9 1687.6 774.6 1691.9 774.0 C1696.2 773.4 1701.7 771.3 1706.0 770.0 C1710.3 768.7 1713.5 766.6 1717.7 766.4 C1721.9 766.2 1726.8 767.3 1731.4 768.6 C1736.0 769.9 1740.8 773.2 1745.4 774.0 C1750.1 774.8 1753.8 774.6 1759.3 773.3 C1764.8 772.0 1770.8 768.0 1778.6 766.4 C1786.4 764.8 1797.1 764.6 1806.4 763.9 C1815.7 763.2 1825.0 762.4 1834.3 762.1 C1843.6 761.8 1854.2 762.7 1862.1 762.1 C1869.9 761.5 1875.7 759.7 1881.4 758.3 C1887.1 756.9 1879.4 754.5 1896.4 753.6 C1913.4 752.7 1967.6 753.7 1983.6 752.9 C1999.5 752.1 1987.1 750.0 1992.1 748.6 C1997.1 747.2 2004.7 744.9 2013.6 744.3 C2022.5 743.6 2037.1 744.2 2045.7 744.7 C2054.3 745.2 2059.3 747.6 2065.0 747.5 C2070.7 747.4 2073.2 745.5 2080.0 744.3 C2086.8 743.0 2099.3 740.5 2105.7 740.0 C2112.1 739.5 2113.6 740.2 2118.6 741.0 C2123.6 741.8 2130.0 744.7 2135.7 744.9 C2141.4 745.1 2147.8 742.3 2152.8 742.1 C2157.8 741.9 2160.0 742.8 2165.7 743.9 C2171.4 745.0 2180.3 748.5 2187.1 749.0 C2193.9 749.5 2199.6 747.1 2206.4 746.9 C2213.2 746.6 2220.7 747.8 2227.8 747.5 C2235.0 747.2 2240.4 746.1 2249.3 745.4 C2258.2 744.7 2272.5 744.0 2281.4 743.2 C2290.3 742.4 2295.7 740.8 2302.8 740.4 C2310.0 740.0 2317.2 741.0 2324.3 741.0 C2331.5 741.0 2337.8 740.8 2345.7 740.4 C2353.5 740.0 2367.1 739.1 2371.4 738.9 L2373.5 738.4" fill="none" stroke="#1a1a1a" stroke-opacity="0.55" stroke-width="7" stroke-linejoin="round"/>
<path d="M492.0 1884.5 C493.2 1883.9 497.2 1881.9 499.4 1880.9 C501.6 1879.9 503.4 1879.3 505.4 1878.5 C507.4 1877.6 509.4 1876.8 511.5 1875.8 C513.5 1874.9 515.5 1874.0 517.5 1873.0 C519.5 1872.0 521.5 1870.9 523.5 1869.9 C525.5 1868.8 527.5 1867.7 529.5 1866.6 C531.5 1865.4 533.6 1864.2 535.6 1863.0 C537.6 1861.8 539.6 1860.6 541.6 1859.3 C543.6 1858.0 545.6 1856.7 547.6 1855.4 C549.6 1854.0 551.6 1852.6 553.6 1851.2 C555.7 1849.8 557.7 1848.4 559.7 1846.9 C561.7 1845.4 563.7 1843.9 565.7 1842.4 C567.7 1840.8 569.7 1839.3 571.7 1837.7 C573.7 1836.1 575.8 1834.4 577.8 1832.8 C579.8 1831.1 581.8 1829.4 583.8 1827.7 C585.8 1826.0 587.8 1824.3 589.8 1822.5 C591.8 1820.7 593.8 1818.9 595.8 1817.1 C597.9 1815.3 599.9 1813.5 601.9 1811.6 C603.9 1809.7 605.9 1807.8 607.9 1805.9 C609.9 1804.0 611.9 1802.0 613.9 1800.1 C615.9 1798.1 617.9 1796.1 620.0 1794.1 C622.0 1792.1 624.0 1790.0 626.0 1788.0 C628.0 1785.9 630.0 1783.8 632.0 1781.7 C634.0 1779.6 636.0 1777.5 638.0 1775.4 C640.0 1773.2 642.1 1771.1 644.1 1768.9 C646.1 1766.7 648.1 1764.5 650.1 1762.3 C652.1 1760.1 654.1 1757.8 656.1 1755.6 C658.1 1753.3 660.1 1751.0 662.1 1748.7 C664.2 1746.5 666.2 1744.1 668.2 1741.8 C670.2 1739.5 672.2 1737.2 674.2 1734.8 C676.2 1732.5 678.2 1730.1 680.2 1727.7 C682.2 1725.3 684.2 1722.9 686.3 1720.5 C688.3 1718.1 690.3 1715.7 692.3 1713.3 C694.3 1710.8 696.3 1708.4 698.3 1705.9 C700.3 1703.5 702.3 1701.0 704.3 1698.5 C706.4 1696.1 708.4 1693.6 710.4 1691.1 C712.4 1688.6 714.4 1686.1 716.4 1683.6 C718.4 1681.1 720.4 1678.5 722.4 1676.0 C724.4 1673.5 726.4 1671.0 728.5 1668.4 C730.5 1665.9 732.5 1663.3 734.5 1660.8 C736.5 1658.2 738.5 1655.7 740.5 1653.1 C742.5 1650.6 744.5 1648.0 746.5 1645.5 C748.5 1642.9 750.6 1640.4 752.6 1637.8 C754.6 1635.2 756.6 1632.7 758.6 1630.1 C760.6 1627.6 762.6 1625.0 764.6 1622.4 C766.6 1619.9 768.6 1617.3 770.6 1614.8 C772.7 1612.2 774.7 1609.7 776.7 1607.1 C778.7 1604.6 780.7 1602.1 782.7 1599.5 C784.7 1597.0 786.7 1594.5 788.7 1591.9 C790.7 1589.4 792.7 1586.9 794.8 1584.4 C796.8 1581.9 798.8 1579.4 800.8 1576.9 C802.8 1574.4 804.8 1571.9 806.8 1569.4 C808.8 1566.9 810.8 1564.5 812.8 1562.0 C814.9 1559.5 816.9 1557.1 818.9 1554.6 C820.9 1552.2 822.9 1549.8 824.9 1547.3 C826.9 1544.9 828.9 1542.5 830.9 1540.1 C832.9 1537.7 834.9 1535.3 837.0 1532.9 C839.0 1530.5 841.0 1528.1 843.0 1525.7 C845.0 1523.3 847.0 1521.0 849.0 1518.6 C851.0 1516.3 853.0 1513.9 855.0 1511.6 C857.0 1509.2 859.1 1506.9 861.1 1504.6 C863.1 1502.3 865.1 1499.9 867.1 1497.7 C869.1 1495.5 871.1 1493.2 873.1 1491.1 C875.1 1489.0 877.1 1487.0 879.1 1485.1 C881.2 1483.2 883.2 1481.5 885.2 1479.8 C887.2 1478.0 889.2 1476.5 891.2 1474.9 C893.2 1473.3 895.2 1471.7 897.2 1470.1 C899.2 1468.6 901.2 1467.0 903.3 1465.3 C905.3 1463.7 907.3 1462.0 909.3 1460.2 C911.3 1458.5 913.3 1456.6 915.3 1454.8 C917.3 1452.9 919.3 1451.0 921.3 1449.0 C923.3 1447.1 925.4 1445.1 927.4 1443.0 C929.4 1441.0 931.4 1438.9 933.4 1436.8 C935.4 1434.7 937.4 1432.6 939.4 1430.5 C941.4 1428.3 943.4 1426.2 945.5 1424.0 C947.5 1421.9 949.5 1419.7 951.5 1417.5 C953.5 1415.3 955.5 1413.1 957.5 1411.0 C959.5 1408.8 961.5 1406.6 963.5 1404.5 C965.5 1402.3 967.6 1400.2 969.6 1398.1 C971.6 1395.9 973.6 1393.8 975.6 1391.8 C977.6 1389.7 979.6 1387.6 981.6 1385.6 C983.6 1383.6 985.6 1381.6 987.6 1379.7 C989.7 1377.8 991.7 1375.9 993.7 1374.1 C995.7 1372.2 997.7 1370.4 999.7 1368.7 C1001.7 1367.0 1003.7 1365.3 1005.7 1363.7 C1007.7 1362.1 1009.7 1360.6 1011.8 1359.1 C1013.8 1357.6 1015.8 1356.2 1017.8 1354.9 C1019.8 1353.5 1021.8 1352.2 1023.8 1351.0 C1025.8 1349.7 1027.8 1348.5 1029.8 1347.4 C1031.8 1346.2 1033.9 1345.0 1035.9 1343.9 C1037.9 1342.7 1039.9 1341.6 1041.9 1340.5 C1043.9 1339.3 1045.9 1338.2 1047.9 1337.0 C1049.9 1335.8 1051.9 1334.6 1053.9 1333.4 C1056.0 1332.2 1058.0 1330.9 1060.0 1329.6 C1062.0 1328.3 1064.0 1327.0 1066.0 1325.5 C1068.0 1324.1 1070.0 1322.6 1072.0 1321.0 C1074.0 1319.5 1076.1 1317.8 1078.1 1316.1 C1080.1 1314.3 1082.1 1312.5 1084.1 1310.5 C1086.1 1308.6 1088.1 1306.6 1090.1 1304.6 C1092.1 1302.5 1094.1 1300.4 1096.1 1298.2 C1098.2 1296.0 1100.2 1293.8 1102.2 1291.5 C1104.2 1289.3 1106.2 1286.9 1108.2 1284.6 C1110.2 1282.3 1112.2 1279.9 1114.2 1277.6 C1116.2 1275.2 1118.2 1272.8 1120.3 1270.5 C1122.3 1268.1 1124.3 1265.7 1126.3 1263.4 C1128.3 1261.0 1130.3 1258.7 1132.3 1256.4 C1134.3 1254.1 1136.3 1251.8 1138.3 1249.5 C1140.3 1247.3 1142.4 1245.0 1144.4 1242.8 C1146.4 1240.5 1148.4 1238.3 1150.4 1236.0 C1152.4 1233.8 1154.4 1231.6 1156.4 1229.3 C1158.4 1227.1 1160.4 1224.9 1162.4 1222.6 C1164.5 1220.4 1166.5 1218.1 1168.5 1215.9 C1170.5 1213.6 1172.5 1211.3 1174.5 1209.1 C1176.5 1206.8 1178.5 1204.5 1180.5 1202.1 C1182.5 1199.8 1184.6 1197.5 1186.6 1195.1 C1188.6 1192.7 1190.6 1190.3 1192.6 1187.8 C1194.6 1185.4 1196.6 1182.9 1198.6 1180.4 C1200.6 1177.9 1202.6 1175.4 1204.6 1172.8 C1206.7 1170.2 1208.7 1167.5 1210.7 1164.9 C1212.7 1162.2 1214.7 1159.5 1216.7 1156.8 C1218.7 1154.0 1220.7 1151.3 1222.7 1148.5 C1224.7 1145.8 1226.7 1143.0 1228.8 1140.3 C1230.8 1137.6 1232.8 1134.9 1234.8 1132.2 C1236.8 1129.5 1238.8 1126.8 1240.8 1124.2 C1242.8 1121.5 1244.8 1119.0 1246.8 1116.4 C1248.8 1113.9 1250.9 1111.4 1252.9 1109.1 C1254.9 1106.7 1256.9 1104.3 1258.9 1102.1 C1260.9 1099.9 1262.9 1097.7 1264.9 1095.7 C1266.9 1093.7 1268.9 1091.7 1270.9 1089.9 C1273.0 1088.1 1275.0 1086.4 1277.0 1084.7 C1279.0 1083.1 1281.0 1081.5 1283.0 1080.0 C1285.0 1078.4 1287.0 1077.0 1289.0 1075.5 C1291.0 1074.1 1293.0 1072.7 1295.1 1071.3 C1297.1 1069.8 1299.1 1068.4 1301.1 1067.0 C1303.1 1065.6 1305.1 1064.1 1307.1 1062.6 C1309.1 1061.1 1311.1 1059.6 1313.1 1057.9 C1315.2 1056.3 1317.2 1054.6 1319.2 1052.9 C1321.2 1051.1 1323.2 1049.3 1325.2 1047.4 C1327.2 1045.6 1329.2 1043.7 1331.2 1041.7 C1333.2 1039.7 1335.2 1037.7 1337.3 1035.6 C1339.3 1033.5 1341.3 1031.3 1343.3 1029.2 C1345.3 1027.0 1347.3 1024.8 1349.3 1022.5 C1351.3 1020.2 1353.3 1017.9 1355.3 1015.6 C1357.3 1013.2 1359.4 1010.8 1361.4 1008.4 C1363.4 1006.0 1365.4 1003.6 1367.4 1001.1 C1369.4 998.6 1371.4 996.1 1373.4 993.6 C1375.4 991.1 1377.4 988.5 1379.4 985.9 C1381.5 983.4 1383.5 980.8 1385.5 978.2 C1387.5 975.6 1389.5 973.0 1391.5 970.4 C1393.5 967.7 1395.5 965.1 1397.5 962.5 C1399.5 959.9 1401.5 957.2 1403.6 954.6 C1405.6 952.0 1407.6 949.4 1409.6 946.8 C1411.6 944.2 1413.6 941.6 1415.6 939.1 C1417.6 936.5 1419.6 934.0 1421.6 931.5 C1423.6 929.0 1425.7 926.5 1427.7 924.0 C1429.7 921.6 1431.7 919.2 1433.7 916.8 C1435.7 914.4 1437.7 912.1 1439.7 909.8 C1441.7 907.5 1443.7 905.2 1445.8 903.0 C1447.8 900.8 1449.8 898.7 1451.8 896.6 C1453.8 894.5 1455.8 892.5 1457.8 890.5 C1459.8 888.5 1461.8 886.5 1463.8 884.6 C1465.8 882.7 1467.9 880.8 1469.9 879.0 C1471.9 877.2 1473.9 875.4 1475.9 873.6 C1477.9 871.9 1479.9 870.2 1481.9 868.5 C1483.9 866.8 1485.9 865.1 1487.9 863.5 C1490.0 861.9 1492.0 860.3 1494.0 858.8 C1496.0 857.3 1498.0 855.7 1500.0 854.2 C1502.0 852.8 1504.0 851.3 1506.0 849.9 C1508.0 848.4 1510.0 847.0 1512.1 845.6 C1514.1 844.2 1516.1 842.9 1518.1 841.5 C1520.1 840.2 1522.1 838.8 1524.1 837.5 C1526.1 836.2 1528.1 834.9 1530.1 833.7 C1532.1 832.4 1534.2 831.1 1536.2 829.9 C1538.2 828.6 1540.2 827.4 1542.2 826.2 C1544.2 824.9 1546.2 823.7 1548.2 822.5 C1550.2 821.3 1552.2 820.1 1554.3 818.9 C1556.3 817.7 1558.3 816.5 1560.3 815.3 C1562.3 814.1 1564.3 812.9 1566.3 811.7 C1568.3 810.6 1570.3 809.4 1572.3 808.2 C1574.3 807.0 1576.4 805.8 1578.4 804.6 C1580.4 803.4 1582.4 802.2 1584.4 801.0 C1586.4 799.8 1588.4 798.6 1590.4 797.3 C1592.4 796.1 1594.4 794.9 1596.4 793.6 C1598.5 792.4 1600.5 791.1 1602.5 789.8 C1604.5 788.5 1606.9 786.8 1608.5 785.9 C1610.1 785.0 1609.9 784.9 1612.1 784.6 C1614.3 784.3 1617.4 785.0 1621.5 784.0 C1625.6 783.0 1630.5 780.7 1636.7 778.7 C1643.0 776.8 1654.1 773.5 1659.0 772.3 C1663.9 771.1 1662.5 771.5 1666.0 771.7 C1669.5 771.9 1675.8 773.1 1680.1 773.5 C1684.4 773.9 1687.6 774.6 1691.9 774.0 C1696.2 773.4 1701.7 771.3 1706.0 770.0 C1710.3 768.7 1713.5 766.6 1717.7 766.4 C1721.9 766.2 1726.8 767.3 1731.4 768.6 C1736.0 769.9 1740.8 773.2 1745.4 774.0 C1750.1 774.8 1753.8 774.6 1759.3 773.3 C1764.8 772.0 1770.8 768.0 1778.6 766.4 C1786.4 764.8 1797.1 764.6 1806.4 763.9 C1815.7 763.2 1825.0 762.4 1834.3 762.1 C1843.6 761.8 1854.2 762.7 1862.1 762.1 C1869.9 761.5 1875.7 759.7 1881.4 758.3 C1887.1 756.9 1879.4 754.5 1896.4 753.6 C1913.4 752.7 1967.6 753.7 1983.6 752.9 C1999.5 752.1 1987.1 750.0 1992.1 748.6 C1997.1 747.2 2004.7 744.9 2013.6 744.3 C2022.5 743.6 2037.1 744.2 2045.7 744.7 C2054.3 745.2 2059.3 747.6 2065.0 747.5 C2070.7 747.4 2073.2 745.5 2080.0 744.3 C2086.8 743.0 2099.3 740.5 2105.7 740.0 C2112.1 739.5 2113.6 740.2 2118.6 741.0 C2123.6 741.8 2130.0 744.7 2135.7 744.9 C2141.4 745.1 2147.8 742.3 2152.8 742.1 C2157.8 741.9 2160.0 742.8 2165.7 743.9 C2171.4 745.0 2180.3 748.5 2187.1 749.0 C2193.9 749.5 2199.6 747.1 2206.4 746.9 C2213.2 746.6 2220.7 747.8 2227.8 747.5 C2235.0 747.2 2240.4 746.1 2249.3 745.4 C2258.2 744.7 2272.5 744.0 2281.4 743.2 C2290.3 742.4 2295.7 740.8 2302.8 740.4 C2310.0 740.0 2317.2 741.0 2324.3 741.0 C2331.5 741.0 2337.8 740.8 2345.7 740.4 C2353.5 740.0 2367.1 739.1 2371.4 738.9 L2373.5 738.4" fill="none" stroke="#fff" stroke-width="4.4" stroke-linejoin="round"/>
</g>
<text class="ax" x="170.07" y="660.92">100%</text>
<text class="ax" x="190.73" y="910.12">80%</text>
<text class="ax" x="184.68" y="1159.72">60%</text>
<text class="ax" x="191.52" y="1400.32">40%</text>
<text class="ax" x="192.44" y="1650.32">20%</text>
<text class="ax" x="210.83" y="1891.22">0%</text>
<text class="ax" x="289.45" y="1964.32">380</text>
<text class="ax" x="570.64" y="1963.52">430</text>
<text class="ax" x="856.79" y="1962.12">480</text>
<text class="ax" x="1146.31" y="1961.72">530</text>
<text class="ax" x="1445.61" y="1964.52">580</text>
<text class="ax" x="1734.33" y="1961.32">630</text>
<text class="ax" x="2027.68" y="1962.12">680</text>
<text class="ax" x="2314.46" y="1959.22">730</text>
<text class="title" transform="translate(1072.80 481) scale(0.9419 1)" x="0" y="0">Light Spectrum Report</text>
<text class="lens" font-size="58.7" transform="translate(1658.49 1822.5) scale(1.0185 1)">Lens color:</text>
<text class="lens" font-size="52.65" transform="translate(1996.48 1822.5) scale(1.0009 1)">Amber Shield</text>
<text class="xt" font-size="55.2" letter-spacing="2.52" transform="translate(927.51 2135) scale(1.0400 1)">Visible Light Spectrum(nm)</text>
<text class="logo" font-size="103.0" transform="scale(1.120 1)"><tspan x="529.20" y="490.6" font-size="110">G</tspan><tspan x="608.65" y="491">L</tspan><tspan x="631.30" y="484.2">O</tspan><tspan x="709.90" y="484.2">O</tspan><tspan x="786.37" y="478.6" font-size="89.6">J</tspan><tspan x="805.10" y="484.2">O</tspan></text>
<rect x="790" y="444.5" width="13" height="10" fill="#5a1800"/>
<rect x="1026" y="405" width="2" height="91.5" fill="#231816"/>
</svg>
</body></html>
